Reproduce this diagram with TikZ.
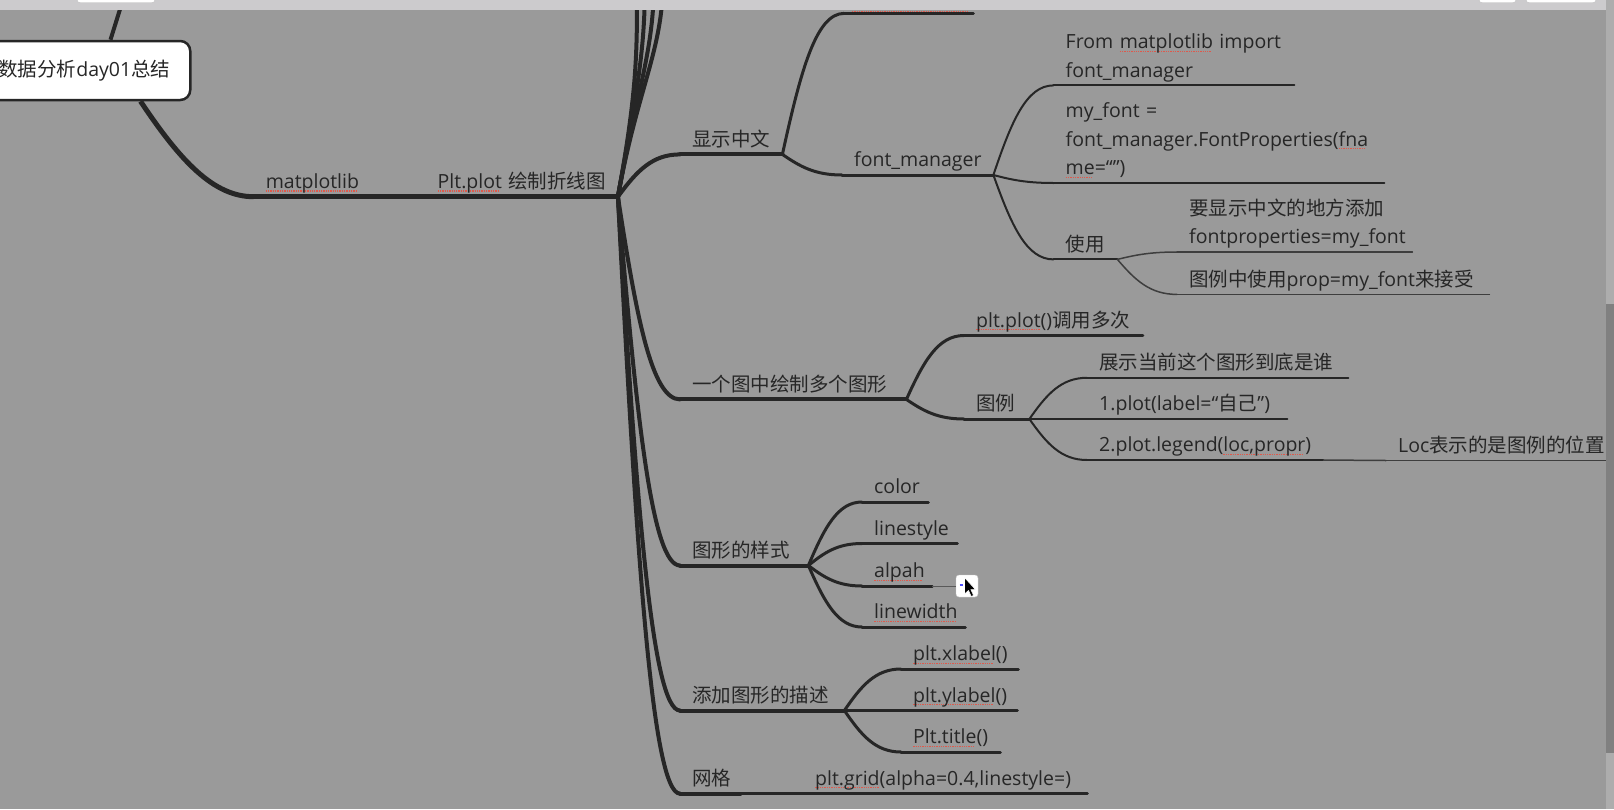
\documentclass[tikz,border=0pt]{standalone}
\usepackage{fontspec}
\setmainfont{Open Sans}
\newfontfamily\cjkfont{Noto Sans CJK SC}
\newcommand\zh[1]{{\cjkfont #1}}
\usetikzlibrary{calc}
\definecolor{canvasGray}{HTML}{9A9A9A}
\definecolor{barGray}{HTML}{CCCBCD}
\definecolor{inkDark}{HTML}{262626}
\definecolor{twigGray}{HTML}{3E3E3E}
\definecolor{spellRed}{HTML}{E0584B}
\newbox\spellbox
\newcommand\spell[1]{\leavevmode\setbox\spellbox\hbox{#1}\rlap{\lower3pt\hbox to\wd\spellbox{\color{spellRed}\leaders\hbox{\vrule width1.3pt height1.2pt depth0pt\kern1pt}\hfil}}\box\spellbox}

\begin{document}
\begin{tikzpicture}[x=1pt, y=-1pt,
  font=\fontsize{19.5}{28.5}\selectfont, text=inkDark,
  topic/.style={anchor=south west, align=left, inner xsep=12pt, inner ysep=3pt,
                text width=#1, execute at end node={\vrule width0pt height0pt depth5pt}},
  rootbox/.style={draw=inkDark, line width=2.5pt, fill=white, rounded corners=10pt,
                  anchor=east, minimum height=59pt, inner xsep=20pt},
  trunk/.style={draw=inkDark, line width=5pt, line cap=round},
  bough/.style={draw=inkDark, line width=4pt, line cap=round},
  twig/.style={draw=inkDark, line width=3pt, line cap=round},
  leaf/.style={draw=inkDark, line width=2pt, line cap=round},
  hair/.style={draw=twigGray, line width=1.5pt, line cap=round},
  curvy/.style={to path={let \p1=(\tikztostart), \p2=(\tikztotarget) in
    .. controls (0.7*\x1+0.3*\x2, 0.4*\y1+0.6*\y2) and (0.45*\x1+0.55*\x2, \y2) .. (\tikztotarget)}}]

  \useasboundingbox (0,0) rectangle (1614,809);
  \clip (0,0) rectangle (1614,809);
  \fill[canvasGray] (0,0) rectangle (1614,809);

  % root and first branch
  \node[rootbox] (root) at (191.5,70.5) {\zh{数据分析}day01\zh{总结}};
  \coordinate (rtop) at (126,-10);
  \node[topic=86.4pt] (mpl) at (253.6,196.7) {\spell{matplotlib}};
  \node[topic=168pt]  (plt) at (425.5,196.7) {\spell{Plt.plot}~\zh{绘制折线图}};

  % off-screen branches above
  \coordinate (up1) at (637,-20);
  \coordinate (up2) at (645,-20);
  \coordinate (up3) at (654,-20);
  \coordinate (up4) at (663,-20);

  % 显示中文
  \node[topic=78pt]  (xszw) at (680,154.4) {\zh{显示中文}};
  \node[topic=105pt] (cut)  at (844,13.4)  {};
  \node[topic=127pt] (fm)   at (842,175)   {font\_manager};
  \node[topic=216.5pt] (imp) at (1053.5,85.4) {From~\spell{matplotlib}~import\\font\_manager};
  \node[topic=306.5pt] (myf) at (1053.5,183) {my\_font~=\\font\_manager.FontProperties(\spell{fna}\\\spell{me}=“”)};
  \node[topic=39.5pt] (use)  at (1053.5,259.4) {\zh{使用}};
  \node[topic=211pt] (show)  at (1177,252)   {\zh{要显示中文的地方添加}\\fontproperties=my\_font};
  \node[topic=288pt] (legprop) at (1177,294.4) {\zh{图例中使用}prop=my\_font\zh{来接受}};

  % 一个图中绘制多个图形
  \node[topic=202pt]   (yige)  at (680,399.4) {\zh{一个图中绘制多个图形}};
  \node[topic=154.5pt] (multi) at (964,335.5) {\spell{plt.plot}()\zh{调用多次}};
  \node[topic=41pt]    (tuli)  at (964,419)   {\zh{图例}};
  \node[topic=237pt] (zhanshi) at (1087,377.8) {\zh{展示当前这个图形到底是谁}};
  \node[topic=176pt] (label)   at (1087,419)   {1.plot(label=“\zh{自己}”)};
  \node[topic=212pt] (legend)  at (1087,460)   {2.plot.legend(\spell{loc,propr})};
  \node[topic=240pt] (loc)     at (1386,460.5) {Loc\zh{表示的是图例的位置}};

  % 图形的样式
  \node[topic=104pt] (yangshi) at (680,565.5) {\zh{图形的样式}};
  \node[topic=42pt]  (color)   at (862,502)   {color};
  \node[topic=71pt]  (lstyle)  at (862,543.5) {linestyle};
  \node[topic=46pt]  (alpah)   at (862,586)   {\spell{alpah}};
  \node[topic=79pt]  (lwidth)  at (862,627)   {\spell{linewidth}};
  \node[draw=white!80!black, fill=white, rounded corners=3pt, minimum size=22pt,
        inner sep=0pt] (cursor) at (967,586) {};

  % 添加图形的描述
  \node[topic=140pt] (miaoshu) at (680,710.5) {\zh{添加图形的描述}};
  \node[topic=93pt]  (xl) at (901,669)   {\spell{plt.xlabel}()};
  \node[topic=92pt]  (yl) at (901,710.5) {\spell{plt.ylabel}()};
  \node[topic=75pt]  (tt) at (901,752)   {\spell{Plt.title}()};

  % 网格
  \node[topic=36pt]  (wangge) at (680,793.6) {\zh{网格}};
  \node[topic=323pt] (grid)   at (740,793.6) {\hspace*{63pt}\spell{plt.grid}(alpha=0.4,linestyle=)};

  % underlines
  \foreach \k in {mpl,plt}
    \draw[trunk] (\k.south west) -- (\k.south east);
  \foreach \k in {xszw,yige,yangshi,miaoshu,wangge}
    \draw[bough] (\k.south west) -- (\k.south east);
  \foreach \k in {cut,fm,multi,tuli,color,lstyle,alpah,lwidth,xl,yl,tt,grid}
    \draw[twig] (\k.south west) -- (\k.south east);
  \foreach \k in {imp,myf,use,zhanshi,label,legend}
    \draw[leaf] (\k.south west) -- (\k.south east);
  \foreach \k in {show,legprop,loc}
    \draw[hair] (\k.south west) -- (\k.south east);

  % connectors
  \draw[trunk, line cap=butt] ([xshift=-51pt]root.south east) .. controls +(40,60) and +(-40,0) .. (mpl.south west);
  \draw[bough, line cap=butt] ([xshift=-81pt]root.north east) -- (rtop);
  \draw[trunk] (mpl.south east) -- (plt.south west);
  \foreach \k in {up1,up2,up3,up4}
    \draw[bough] (plt.south east) .. controls +(20,-110) and +(0,70) .. (\k);
  \foreach \k in {xszw,yige,yangshi,miaoshu,wangge}
    \draw[bough] (plt.south east) to[curvy] (\k.south west);
  \foreach \k in {cut,fm}
    \draw[twig] (xszw.south east) to[curvy] (\k.south west);
  \foreach \k in {imp,myf,use}
    \draw[leaf] (fm.south east) to[curvy] (\k.south west);
  \foreach \k in {show,legprop}
    \draw[hair] (use.south east) to[curvy] (\k.south west);
  \foreach \k in {multi,tuli}
    \draw[twig] (yige.south east) to[curvy] (\k.south west);
  \foreach \k in {zhanshi,label,legend}
    \draw[leaf] (tuli.south east) to[curvy] (\k.south west);
  \draw[hair] (legend.south east) -- (loc.south west);
  \foreach \k in {color,lstyle,alpah,lwidth}
    \draw[twig] (yangshi.south east) to[curvy] (\k.south west);
  \foreach \k in {xl,yl,tt}
    \draw[twig] (miaoshu.south east) to[curvy] (\k.south west);
  \draw[twig] (wangge.south east) -- (grid.south west);
  \draw[gray!70!black, line width=1pt] (alpah.south east) -- (cursor.west);

  % spell mark of the cut-off topic
  \draw[spellRed, line width=1.2pt, dash pattern=on 1.3pt off 1pt]
    ([xshift=8pt,yshift=2pt]cut.south west) -- ([xshift=-6pt,yshift=2pt]cut.south east);

  % mouse pointer
  \draw[blue!70, line width=1.5pt] (959.5,585) -- (963,585);
  \fill[black, draw=white, line width=0.6pt] (964.5,577.5) -- (964.5,594) -- (968.5,590.5)
    -- (971.2,596.5) -- (973.6,595.4) -- (970.9,589.6) -- (975.6,589.6) -- cycle;

  % window edges
  \fill[barGray] (0,0) rectangle (1614,10.3);
  \foreach \a/\b in {77/155,1479/1516,1526/1596}
    \filldraw[fill=white, draw=white!75!black, rounded corners=3pt] (\a,-8) rectangle (\b,2.7);
  \fill[black!32] (1606,0) rectangle (1614,304);
  \fill[black!50] (1606,304) rectangle (1614,753);
  \fill[black!32] (1606,753) rectangle (1614,809);
\end{tikzpicture}
\end{document}
